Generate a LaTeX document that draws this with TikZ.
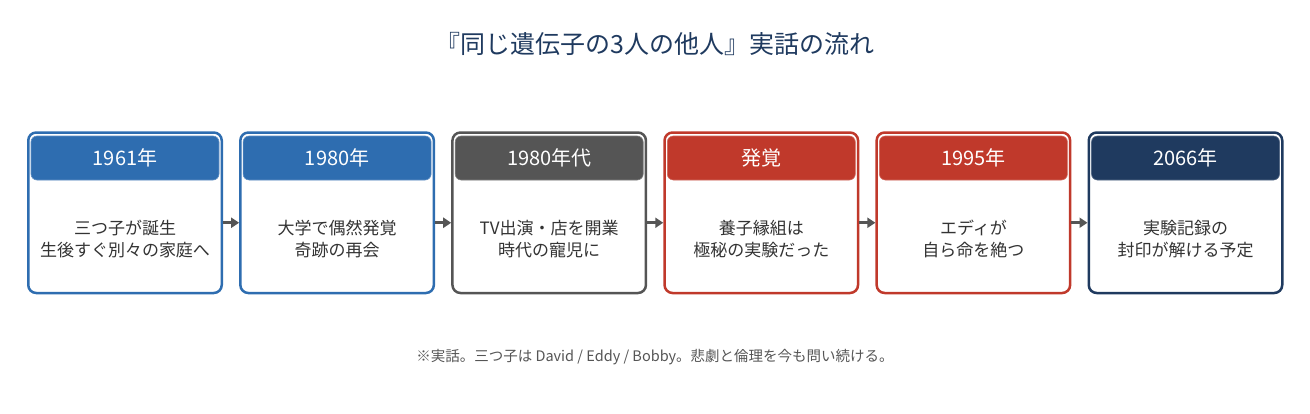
\documentclass[tikz,border=0pt]{standalone}
\usepackage{fontspec}
\setmainfont{Noto Sans CJK JP}
\usetikzlibrary{arrows.meta}
\definecolor{cblue}{HTML}{2E6DB0}
\definecolor{cgray}{HTML}{555555}
\definecolor{cred}{HTML}{C0392B}
\definecolor{cnavy}{HTML}{1F3A5F}
\definecolor{ctext}{HTML}{333333}

\begin{document}
\begin{tikzpicture}[x=1pt,y=-1pt,
    card/.style={draw=#1,line width=2.5pt,rounded corners=8pt,fill=white,
      minimum width=193.5pt,minimum height=160.5pt,inner sep=0pt},
    head/.style={fill=#1,draw=#1!75!white,line width=0.6pt,rounded corners=6pt,
      minimum width=188pt,minimum height=44pt,inner sep=0pt,text=white,
      font=\fontsize{20}{22}\selectfont},
    body/.style={align=center,text=ctext,font=\fontsize{17}{22}\selectfont},
    link/.style={draw=cgray,line width=3pt,-{Triangle[length=8pt,width=10pt]}}]

  \useasboundingbox (0,0) rectangle (1310,413);

  \node[text=cnavy,font=\fontsize{25}{28}\selectfont] (title) at (655,44)
    {『同じ遺伝子の3人の他人』実話の流れ};

  \node[card=cblue]  (1) at (125,212.75)   {};
  \node[card=cblue]  (2) at (337.1,212.75) {};
  \node[card=cgray]  (3) at (549.2,212.75) {};
  \node[card=cred]   (4) at (761.3,212.75) {};
  \node[card=cred]   (5) at (973.4,212.75) {};
  \node[card=cnavy]  (6) at (1185.5,212.75) {};

  \node[head=cblue] (h1) at (125,158)    {1961年};
  \node[head=cblue] (h2) at (337.1,158)  {1980年};
  \node[head=cgray] (h3) at (549.2,158)  {1980年代};
  \node[head=cred]  (h4) at (761.3,158)  {発覚};
  \node[head=cred]  (h5) at (973.4,158)  {1995年};
  \node[head=cnavy] (h6) at (1185.5,158) {2066年};

  \node[body] (t1) at (125,239)    {三つ子が誕生\\生後すぐ別々の家庭へ};
  \node[body] (t2) at (337.1,239)  {大学で偶然発覚\\奇跡の再会};
  \node[body] (t3) at (549.2,239)  {TV出演・店を開業\\時代の寵児に};
  \node[body] (t4) at (761.3,239)  {養子縁組は\\極秘の実験だった};
  \node[body] (t5) at (973.4,239)  {エディが\\自ら命を絶つ};
  \node[body] (t6) at (1185.5,239) {実験記録の\\封印が解ける予定};

  \begin{scope}[every edge/.style={link}]
    \path ([yshift=-10pt]1.east) edge ([yshift=-10pt]2.west);
    \path ([yshift=-10pt]2.east) edge ([yshift=-10pt]3.west);
    \path ([yshift=-10pt]3.east) edge ([yshift=-10pt]4.west);
    \path ([yshift=-10pt]4.east) edge ([yshift=-10pt]5.west);
    \path ([yshift=-10pt]5.east) edge ([yshift=-10pt]6.west);
  \end{scope}

  \node[text=cgray,font=\fontsize{14.5}{18}\selectfont] (note) at (655,357)
    {※実話。三つ子は David / Eddy / Bobby。悲劇と倫理を今も問い続ける。};

\end{tikzpicture}
\end{document}
